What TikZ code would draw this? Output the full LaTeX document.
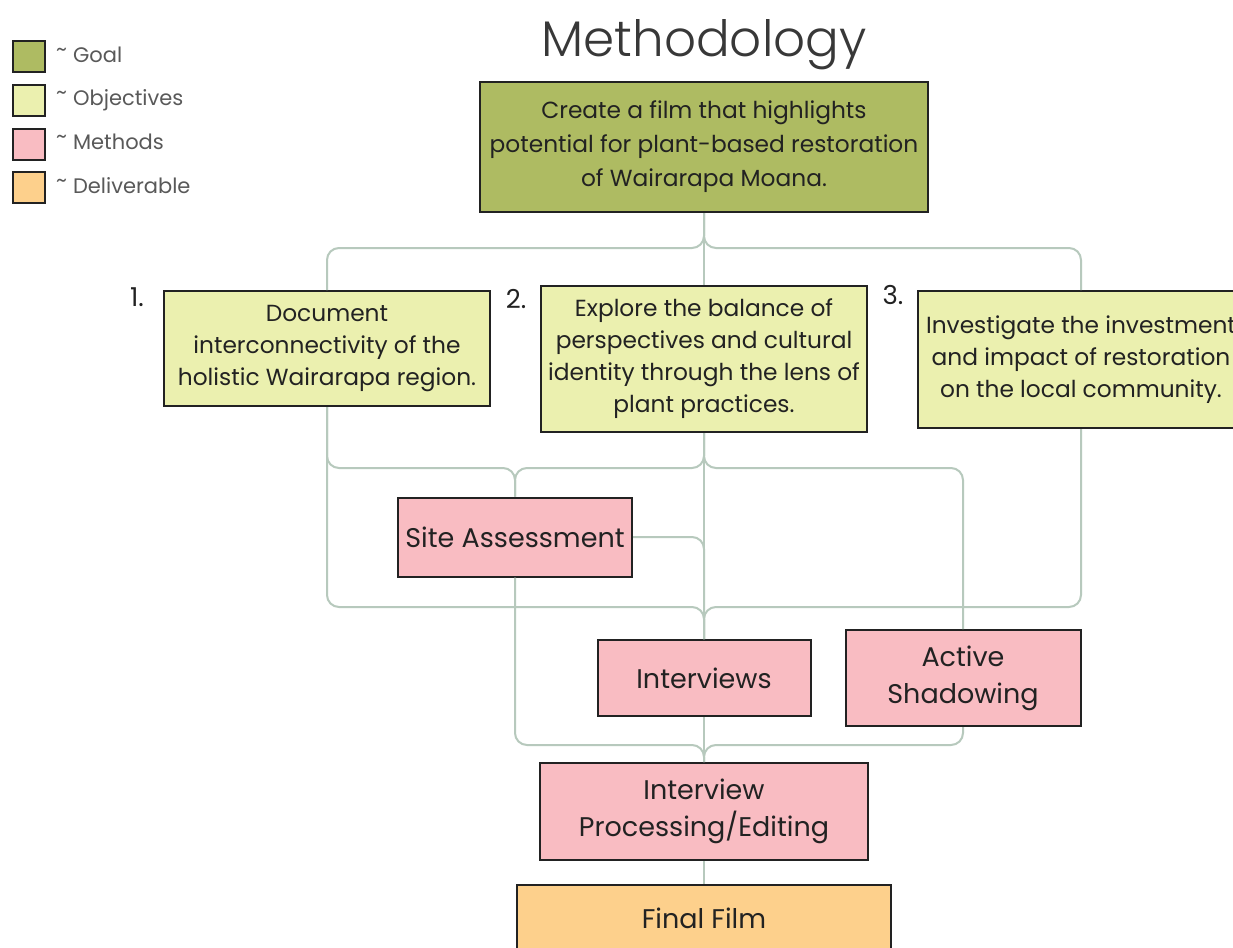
\documentclass[tikz,border=0pt]{standalone}
\usepackage{fontspec}
\setmainfont{Poppins}
\newfontfamily\lightfont{Poppins Light}
\usepackage{tikz}
\usetikzlibrary{positioning}

\definecolor{goalgreen}{HTML}{AEBB62}
\definecolor{objyellow}{HTML}{EBF0AF}
\definecolor{methpink}{HTML}{F9BCC2}
\definecolor{delorange}{HTML}{FDD08C}
\definecolor{linkgray}{HTML}{B7C9BD}
\definecolor{boxedge}{HTML}{222222}

\tikzset{
  box/.style={rectangle, draw=boxedge, line width=2pt, align=center, text=boxedge, inner sep=0pt},
  goal/.style={box, fill=goalgreen, font=\fontsize{23.3}{34}\selectfont},
  objective/.style={box, fill=objyellow, font=\fontsize{23.3}{32}\selectfont},
  method/.style={box, fill=methpink, font=\fontsize{27}{37}\selectfont},
  deliverable/.style={box, fill=delorange, font=\fontsize{27}{37}\selectfont},
  link/.style={draw=linkgray, line width=2pt, rounded corners=12pt},
  legbox/.style={rectangle, draw=boxedge, line width=2pt, minimum width=32pt, minimum height=31pt, inner sep=0pt},
  legtext/.style={text=black!65, font=\fontsize{21}{24}\selectfont, inner sep=0pt, text height=15pt, text depth=4pt},
  num/.style={text=boxedge, font=\fontsize{26}{30}\selectfont, anchor=base},
  title/.style={text=black!78, font=\lightfont\fontsize{50}{60}\selectfont, anchor=base}
}
\newcommand{\legtilde}{\raisebox{6pt}{\fontsize{21}{21}\selectfont\textasciitilde}\hspace{6pt}}

\begin{document}
\begin{tikzpicture}[x=1pt, y=-1pt]
  \fill[white] (0,0) rectangle (1233,947);
  \useasboundingbox (0,0) rectangle (1233,947);

  \node[title] (title) at (704,57) {Methodology};

  % legend
  \node[legbox, fill=goalgreen] (lgoal) at (29,57) {};
  \node[legbox, fill=objyellow, below=10.5pt of lgoal] (lobj) {};
  \node[legbox, fill=methpink, below=10.5pt of lobj] (lmeth) {};
  \node[legbox, fill=delorange, below=10.5pt of lmeth] (ldel) {};
  \node[legtext, right=10pt of lgoal] (tgoal) {\legtilde Goal};
  \node[legtext, right=10pt of lobj] (tobj) {\legtilde Objectives};
  \node[legtext, right=10pt of lmeth] (tmeth) {\legtilde Methods};
  \node[legtext, right=10pt of ldel] (tdel) {\legtilde Deliverable};

  % boxes
  \node[goal, minimum width=448pt, minimum height=130pt] (goal) at (704,147)
    {Create a film that highlights\\potential for plant-based restoration\\of Wairarapa Moana.};
  \node[objective, minimum width=326pt, minimum height=146pt, below=72pt of goal] (obj2)
    {Explore the balance of\\perspectives and cultural\\identity through the lens of\\plant practices.};
  \node[objective, minimum width=326pt, minimum height=115pt, below left=5pt and 49pt of obj2.north west] (obj1)
    {Document\\interconnectivity of the\\holistic Wairarapa region.};
  \node[objective, minimum width=326pt, minimum height=137pt, below right=5pt and 49pt of obj2.north east] (obj3)
    {Investigate the investment\\and impact of restoration\\on the local community.};

  \node[method, minimum width=234pt, minimum height=79pt] (site) at (515,537) {Site Assessment};
  \node[method, minimum width=213pt, minimum height=76pt, below=206pt of obj2] (interviews) {Interviews};
  \node[method, minimum width=235pt, minimum height=96pt, right=33pt of interviews] (active) {Active\\Shadowing};
  \node[method, minimum width=328pt, minimum height=97pt, below=45pt of interviews] (ip)
    {Interview\\Processing/Editing};
  \node[deliverable, minimum width=374pt, minimum height=66pt, below=23pt of ip] (film) {Final Film};

  \node[num] (n1) at (137,306) {1.};
  \node[num] (n2) at (516,308) {2.};
  \node[num] (n3) at (893,304) {3.};

  % split levels
  \coordinate (split1) at (0,248);
  \coordinate (split2) at (0,468);
  \coordinate (split3) at (0,607);
  \coordinate (split4) at (0,745);

  % connectors
  \draw[link] (goal.south) -- (goal.south |- split1) -| (obj1.north);
  \draw[link] (goal.south) -- (goal.south |- split1) -| (obj3.north);
  \draw[link] (goal.south) -- (obj2.north);

  \draw[link] (obj1.south) |- (site.north |- split2) -- (site.north);
  \draw[link] (obj2.south) -- (obj2.south |- split2) -| (site.north);
  \draw[link] (obj2.south) -- (obj2.south |- split2) -| (active.north);
  \draw[link] (obj2.south) -- (interviews.north);
  \draw[link] (obj1.south) |- (interviews.north |- split3) -- (interviews.north);
  \draw[link] (obj3.south) |- (interviews.north |- split3) -- (interviews.north);

  \draw[link] (site.east) -- (interviews.north |- site.east) -- (interviews.north);
  \draw[link] (site.south) |- (ip.north |- split4) -- (ip.north);
  \draw[link] (active.south) |- (ip.north |- split4) -- (ip.north);
  \draw[link] (interviews.south) -- (ip.north);
  \draw[link] (ip.south) -- (film.north);
\end{tikzpicture}
\end{document}
